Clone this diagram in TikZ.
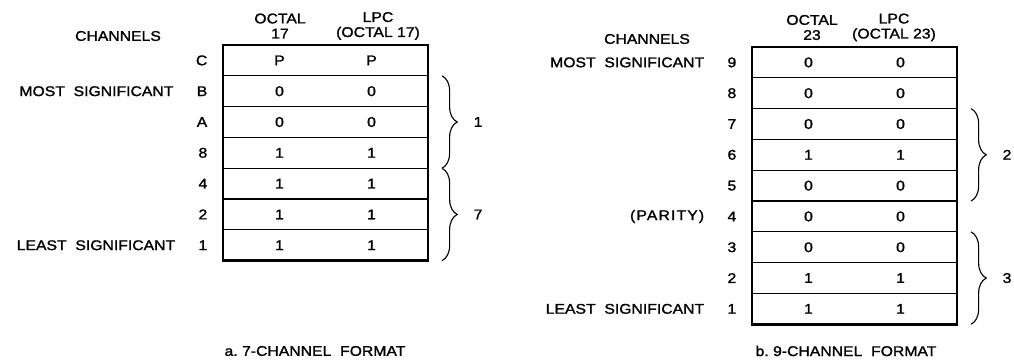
\documentclass[tikz,border=0pt]{standalone}
\usepackage{fontspec}
\setmainfont{Liberation Sans}[FakeStretch=1.12, FakeBold=1.4]
\usetikzlibrary{positioning,decorations.pathreplacing}

\tikzset{
	row/.style={draw, line width=0.9pt, minimum width=5.125cm, minimum height=0.77cm, inner sep=0pt, outer sep=0pt},
	chan/.style={inner sep=1pt},
	head/.style={align=center, inner sep=0pt, font=\fontsize{10}{10.7}\selectfont},
	frame/.style={line width=2pt},
	group/.style={decorate, decoration={brace, amplitude=0.38cm}, line width=0.8pt}
}
% two bit values, one per column
\newcommand{\bits}[2]{\makebox[2.3cm]{#1}\makebox[2.3cm]{#2}}

\begin{document}
\begin{tikzpicture}[x=0.025cm, y=-0.025cm, font=\fontsize{10}{12}\selectfont]
		\useasboundingbox (0,0) rectangle (1014,362);

		% 7-channel tape
		\node [head](HeadA1) at (280,26) {OCTAL\\17};
		\node [head](HeadA2) at (378,26) {LPC\\(OCTAL 17)};
		\node (ChannelsA) at (118,36) {CHANNELS};
		\node [row](AC) at (325.5,60.4) {\bits{P}{P}};
		\node [row, below=0pt of AC](AB) {\bits{0}{0}};
		\node [row, below=0pt of AB](AA) {\bits{0}{0}};
		\node [row, below=0pt of AA](A8) {\bits{1}{1}};
		\node [row, below=0pt of A8](A4) {\bits{1}{1}};
		\node [row, below=0pt of A4](A2) {\bits{1}{1}};
		\node [row, below=0pt of A2](A1) {\bits{1}{1}};
		\draw [frame](AC.north west) rectangle (A1.south east);

		\node [chan, left=0.35cm of AC](LabAC) {C};
		\node [chan, left=0.35cm of AB](LabAB) {B};
		\node [chan, left=0.35cm of AA](LabAA) {A};
		\node [chan, left=0.35cm of A8](LabA8) {8};
		\node [chan, left=0.35cm of A4](LabA4) {4};
		\node [chan, left=0.35cm of A2](LabA2) {2};
		\node [chan, left=0.35cm of A1](LabA1) {1};
		\node [chan, left=0.5cm of LabAB](MostA) {MOST\ \ SIGNIFICANT};
		\node [chan, left=0.5cm of LabA1](LeastA) {LEAST\ \ SIGNIFICANT};

		\draw [group]([xshift=0.35cm]AB.north east) -- ([xshift=0.35cm]A8.south east) node (OctA1)[midway, xshift=0.9cm]{1};
		\draw [group]([xshift=0.35cm]A4.north east) -- ([xshift=0.35cm]A1.south east) node (OctA2)[midway, xshift=0.9cm]{7};
		\node (CapA) at (315,351) {a.\ 7-CHANNEL\ \ FORMAT};

		% 9-channel tape
		\node [head](HeadB1) at (812,27.5) {OCTAL\\23};
		\node [head](HeadB2) at (894,27.5) {LPC\\(OCTAL 23)};
		\node (ChannelsB) at (647,39) {CHANNELS};
		\node [row](B9) at (854.5,62.4) {\bits{0}{0}};
		\node [row, below=0pt of B9](B8) {\bits{0}{0}};
		\node [row, below=0pt of B8](B7) {\bits{0}{0}};
		\node [row, below=0pt of B7](B6) {\bits{1}{1}};
		\node [row, below=0pt of B6](B5) {\bits{0}{0}};
		\node [row, below=0pt of B5](B4) {\bits{0}{0}};
		\node [row, below=0pt of B4](B3) {\bits{0}{0}};
		\node [row, below=0pt of B3](B2) {\bits{1}{1}};
		\node [row, below=0pt of B2](B1) {\bits{1}{1}};
		\draw [frame](B9.north west) rectangle (B1.south east);

		\node [chan, left=0.35cm of B9](LabB9) {9};
		\node [chan, left=0.35cm of B8](LabB8) {8};
		\node [chan, left=0.35cm of B7](LabB7) {7};
		\node [chan, left=0.35cm of B6](LabB6) {6};
		\node [chan, left=0.35cm of B5](LabB5) {5};
		\node [chan, left=0.35cm of B4](LabB4) {4};
		\node [chan, left=0.35cm of B3](LabB3) {3};
		\node [chan, left=0.35cm of B2](LabB2) {2};
		\node [chan, left=0.35cm of B1](LabB1) {1};
		\node [chan, left=0.5cm of LabB9](MostB) {MOST\ \ SIGNIFICANT};
		\node [chan, left=0.5cm of LabB4](Parity) {\addfontfeature{LetterSpace=8}(PARITY)};
		\node [chan, left=0.5cm of LabB1](LeastB) {LEAST\ \ SIGNIFICANT};

		\draw [group]([xshift=0.35cm]B7.north east) -- ([xshift=0.35cm]B5.south east) node (OctB1)[midway, xshift=0.9cm]{2};
		\draw [group]([xshift=0.35cm]B3.north east) -- ([xshift=0.35cm]B1.south east) node (OctB2)[midway, xshift=0.9cm]{3};
		\node (CapB) at (846,351) {b.\ 9-CHANNEL\ \ FORMAT};
	\end{tikzpicture}
\end{document}
